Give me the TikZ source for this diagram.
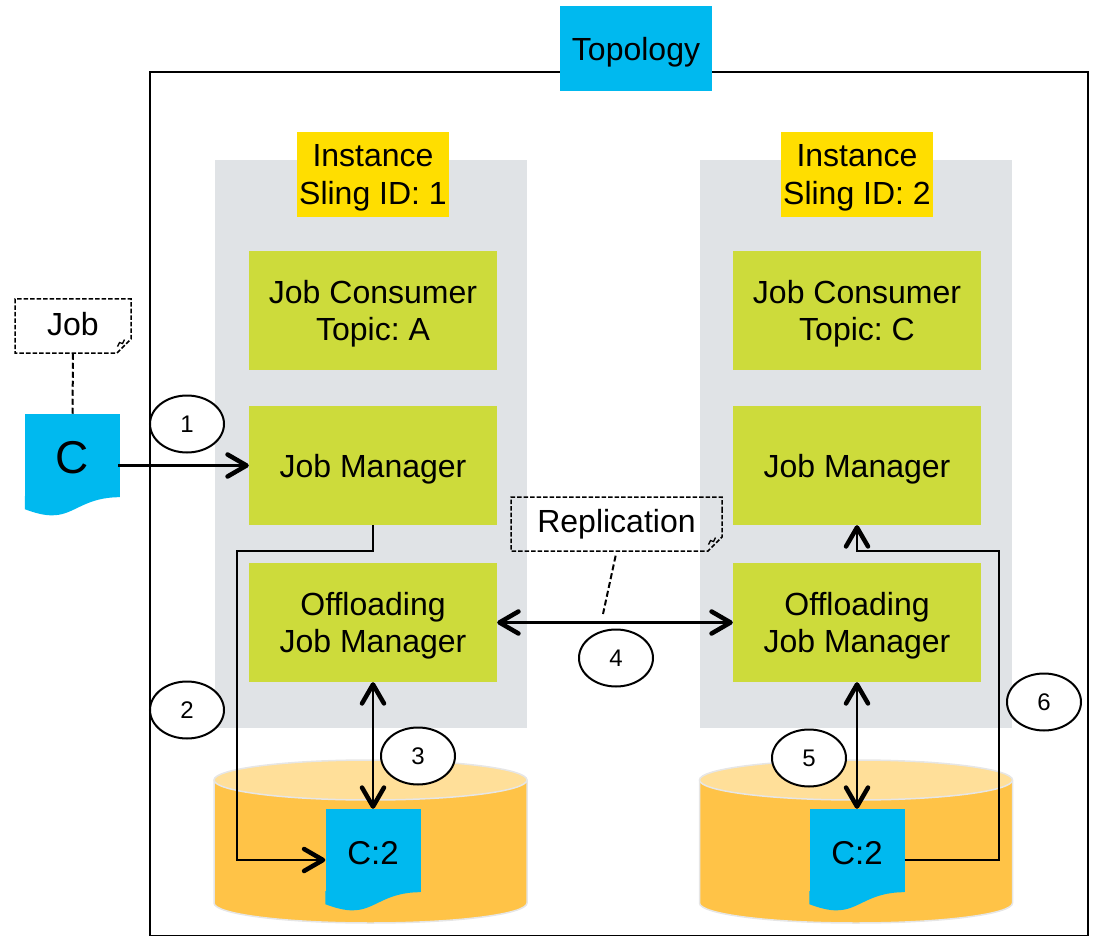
\documentclass[tikz,border=0pt]{standalone}
\usepackage{fontspec}
\setmainfont{Liberation Sans}
\usepackage{tikz}
\usetikzlibrary{arrows.meta,shapes.geometric,shapes.misc}
\definecolor{topoblue}{HTML}{00B9EF}
\definecolor{instgold}{HTML}{FFDE00}
\definecolor{panelgrey}{HTML}{E0E3E6}
\definecolor{compgreen}{HTML}{CDDB3B}
\definecolor{diskbody}{HTML}{FFC347}
\definecolor{disktop}{HTML}{FFDF99}
\definecolor{diskedge}{HTML}{E6E6E6}
\newcommand{\txt}[1]{\frenchspacing\fontsize{#1}{37.5}\selectfont}
\newcommand{\docwave}[1]{
	\fill[topoblue,shift={(#1.south west)}] (0,-1) -- (0,12) .. controls (8,15) and (20,19) .. (30,18) .. controls (50,17) and (60,0) .. (95,0) -- (95,-1) -- cycle;
}
\newcommand{\notefold}[1]{
	\draw[line width=1.3pt,shift={(#1.south east)}] (-7,0) -- (-5,-4) -- (-2,-3) -- (0,-7);
}
\newcommand{\dbdisk}[1]{
	\begin{scope}[shift={(#1,0)}]
		\filldraw[fill=diskbody,draw=diskedge,line width=1.5pt] (-156.5,781) -- (-156.5,903) arc[start angle=180,end angle=0,x radius=156.5,y radius=20] -- (156.5,781) -- cycle;
		\filldraw[fill=disktop,draw=diskedge,line width=1.5pt] (0,780) ellipse[x radius=156.5,y radius=20];
	\end{scope}
}
\tikzset{
	labelbox/.style={minimum width=#1,inner sep=0pt,font=\txt{32},align=center,text depth=-6pt},
	topobox/.style={labelbox=152pt,fill=topoblue,minimum height=85pt},
	instbox/.style={labelbox=152pt,fill=instgold,minimum height=85pt},
	compbox/.style={labelbox=248pt,fill=compgreen,minimum height=119pt},
	panelbox/.style={fill=panelgrey,minimum width=312pt,minimum height=568pt,inner sep=0pt},
	docbox/.style={fill=topoblue,minimum width=95pt,minimum height=83pt,inner sep=0pt,font=\txt{33},text height=28pt},
	notebox/.style={chamfered rectangle,chamfered rectangle corners=south east,chamfered rectangle xsep=7pt,chamfered rectangle ysep=7pt,draw,line width=1.5pt,dash pattern=on 4.5pt off 2pt,inner sep=0pt,font=\txt{32}},
	stepmark/.style={ellipse,draw,fill=white,line width=2pt,minimum width=74pt,minimum height=57pt,inner sep=0pt,font=\txt{24}},
	flow/.style={line width=2.4pt,-{Straight Barb[length=19pt,width=22pt,line width=4.5pt,round]}},
	biflow/.style={line width=2.4pt,{Straight Barb[length=19pt,width=22pt,line width=4.5pt,round]}-{Straight Barb[length=19pt,width=22pt,line width=4.5pt,round]}},
	noteline/.style={line width=2pt,dash pattern=on 6pt off 3pt}
}
\begin{document}
\begin{tikzpicture}[x=1pt,y=-1pt]
	\useasboundingbox (0,0) rectangle (1093,936);
	\draw[line width=2pt] (150,72) rectangle (1088,936);
	\node[topobox] (topology) at (636,48.5) {Topology};
	\node[panelbox] (panelA) at (371,444) {};
	\node[panelbox] (panelB) at (856,444) {};
	\node[instbox] (instA) at (373,174.5) {Instance\\Sling ID: 1};
	\node[instbox] (instB) at (857,174.5) {Instance\\Sling ID: 2};
	\node[compbox] (consumerA) at (373,310.5) {Job Consumer\\Topic: A};
	\node[compbox] (managerA) at (373,465.5) {Job Manager};
	\node[compbox] (offloadA) at (373,622.5) {Offloading\\Job Manager};
	\node[compbox] (consumerB) at (857,310.5) {Job Consumer\\Topic: C};
	\node[compbox] (managerB) at (857,465.5) {Job Manager};
	\node[compbox] (offloadB) at (857,622.5) {Offloading\\Job Manager};
	\dbdisk{370.5}
	\dbdisk{856}
	\node[docbox,font=\txt{46},text height=37pt] (jobdoc) at (72.5,455.5) {C};
	\docwave{jobdoc}
	\node[docbox] (docA) at (373,850.5) {C:2};
	\docwave{docA}
	\node[docbox] (docB) at (857,850.5) {C:2};
	\docwave{docB}
	\node[notebox,minimum width=116pt,minimum height=54pt,text depth=4pt] (jobnote) at (73,326) {Job};
	\notefold{jobnote}
	\node[notebox,minimum width=211pt,minimum height=54pt] (replnote) at (616.5,524) {Replication};
	\notefold{replnote}
	\coordinate (bendA) at (237,551);
	\coordinate (bendB) at (999,551);
	\coordinate (replend) at (603,614);
	\draw[noteline] (jobnote.south) -- (jobdoc.north);
	\draw[noteline,shorten <=4pt] (replnote.south) -- (replend);
	\draw[flow] ([xshift=-2pt]managerA.west -| jobdoc.east) -- (managerA.west);
	\draw[flow] (managerA.south) |- (bendA) |- ([yshift=-9.5pt]docA.west);
	\draw[biflow] (offloadA.south) -- (docA.north);
	\draw[biflow] (offloadA.east) -- (offloadB.west);
	\draw[biflow] (offloadB.south) -- (docB.north);
	\draw[flow] ([yshift=-9.5pt]docB.east) -| (bendB) -| (managerB.south);
	\node[stepmark] (one) at (187,424) {1};
	\node[stepmark] (two) at (187,710) {2};
	\node[stepmark] (three) at (418,756) {3};
	\node[stepmark] (four) at (616,658) {4};
	\node[stepmark] (five) at (809,758) {5};
	\node[stepmark] (six) at (1044,702) {6};
\end{tikzpicture}
\end{document}
